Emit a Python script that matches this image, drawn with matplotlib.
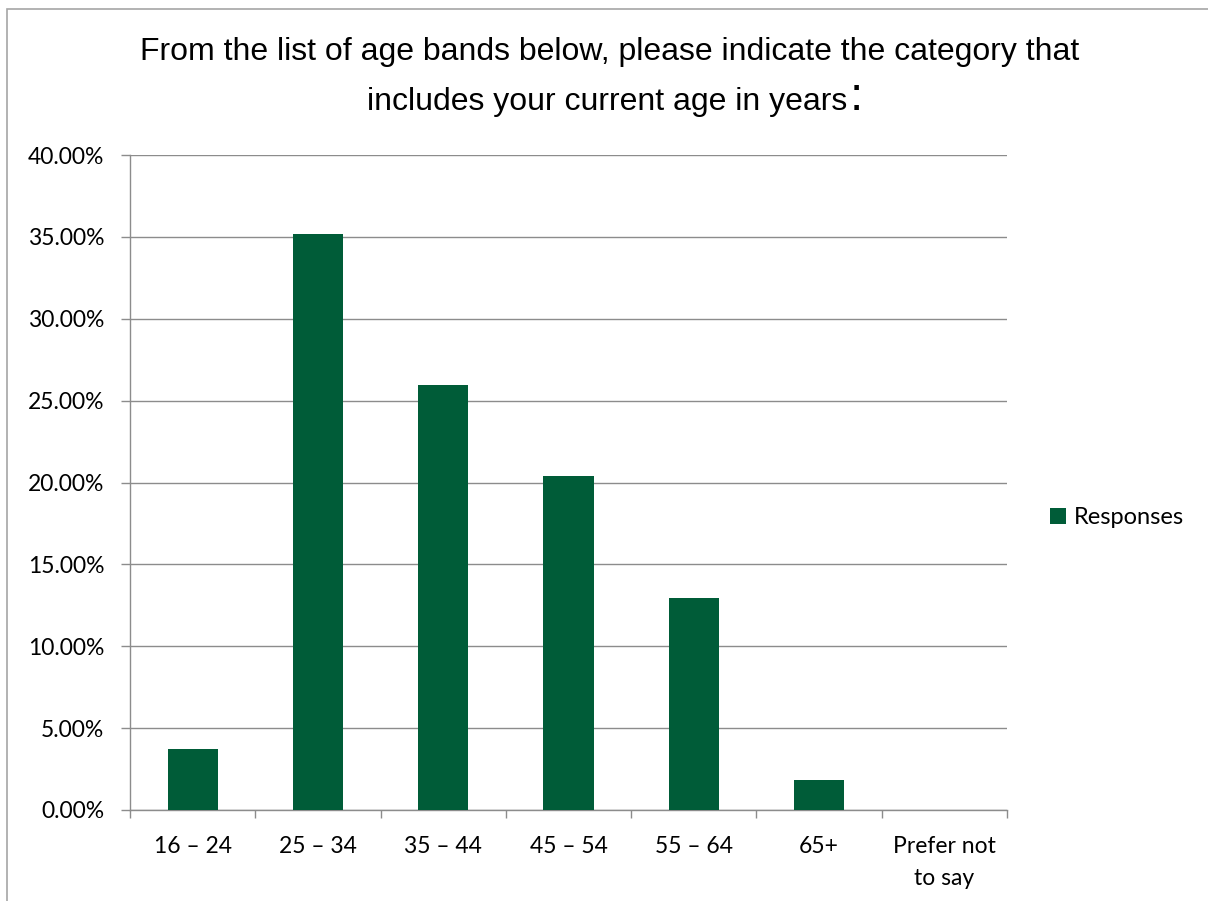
import matplotlib.pyplot as plt
from matplotlib.patches import Rectangle
from matplotlib.ticker import FuncFormatter, FixedLocator

# survey answers (share of responses)
categories = ['16 – 24', '25 – 34', '35 – 44', '45 – 54', '55 – 64', '65+', 'Prefer not\nto say']
responses = [0.0370, 0.3519, 0.2593, 0.2037, 0.1296, 0.0185, 0.0]

bar_color = '#005C38'
grid_color = '#8C8C8C'

fig = plt.figure(figsize=(12.08, 9.01), dpi=100)
ax = fig.add_axes([130 / 1208, 1 - 810 / 901, 877 / 1208, 655 / 901])

x = list(range(len(categories)))
ax.bar(x, responses, width=0.4, color=bar_color, label='Responses', zorder=3)

ax.set_xlim(-0.5, len(categories) - 0.5)
ax.set_ylim(0, 0.40)
ax.set_yticks([i * 0.05 for i in range(9)])
ax.yaxis.set_major_formatter(FuncFormatter(lambda v, p: '%.2f%%' % (v * 100)))
ax.grid(axis='y', color=grid_color, linewidth=1.0, zorder=0)

ax.set_xticks(x)
ax.set_xticklabels(categories, linespacing=1.6)
ax.xaxis.set_minor_locator(FixedLocator([i - 0.5 for i in range(len(categories) + 1)]))
ax.tick_params(axis='x', which='major', length=0, pad=19, labelsize=16.5)
ax.tick_params(axis='x', which='minor', length=6, color=grid_color, width=1)
ax.tick_params(axis='y', length=6.5, color=grid_color, width=1, pad=12, labelsize=16.5)
for lab in ax.get_xticklabels() + ax.get_yticklabels():
    lab.set_fontfamily('Lato')

for s in ['top', 'right']:
    ax.spines[s].set_visible(False)
for s in ['left', 'bottom']:
    ax.spines[s].set_color(grid_color)
    ax.spines[s].set_linewidth(1)

leg = ax.legend(loc='center left', bbox_to_anchor=(1.036, 0.446), frameon=False,
                handlelength=0.65, handleheight=0.65, handletextpad=0.35, borderpad=0,
                prop={'family': 'Lato', 'size': 17})

# title, with the enlarged colon at the end
tfont = {'family': 'Liberation Sans', 'size': 23}
fig.text(0.505, 1 - 52 / 901, 'From the list of age bands below, please indicate the category that',
         ha='center', va='center', **tfont)
t2 = fig.text(0.503, 1 - 102 / 901, 'includes your current age in years', ha='center', va='center', **tfont)
ax.annotate(':', xy=(1.0, 0.0), xycoords=t2, xytext=(1, -2), textcoords='offset points',
            ha='left', va='bottom', family='Liberation Sans', size=34)

# chart frame
fig.patches.append(Rectangle((7 / 1208, -0.1), 1.2, 1.1 - 9 / 901, transform=fig.transFigure,
                             fill=False, edgecolor='#A6A6A6', linewidth=1.2))

fig.savefig('out.png', dpi=100)
